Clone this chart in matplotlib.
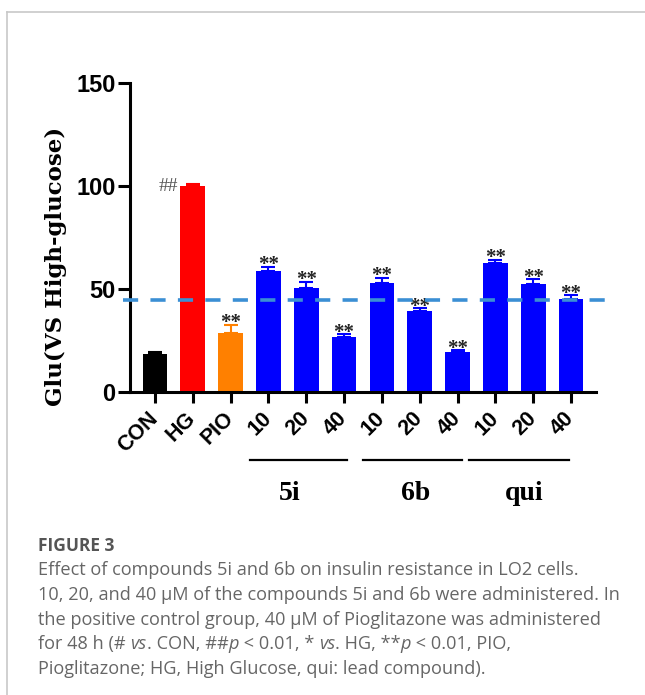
import matplotlib
matplotlib.use("Agg")
import matplotlib.pyplot as plt
from matplotlib.lines import Line2D

# group labels and measured glucose (% of high-glucose group)
groups = ["CON", "HG", "PIO", "10", "20", "40", "10", "20", "40", "10", "20", "40"]
glu = [18.4, 99.8, 28.6, 58.9, 50.6, 26.5, 53.1, 39.3, 19.3, 62.8, 52.6, 45.3]
sem = [0.9, 1.4, 4.0, 1.9, 3.0, 1.6, 2.4, 1.5, 1.1, 1.4, 2.3, 1.7]
marks = ["", "##", "**", "**", "**", "**", "**", "**", "**", "**", "**", "**"]
colors = ["#000000", "#ff0000", "#ff8000"] + ["#0000ff"] * 9
compounds = ["5i", "6b", "qui"]
ref_level = 44.8

W, H = 645, 695
fig = plt.figure(figsize=(W / 100, H / 100), dpi=100)
ax = fig.add_axes([130 / W, 1 - 392 / H, 466 / W, 309 / H])

x = list(range(len(groups)))
ax.bar(x, glu, width=0.65, color=colors, zorder=2)
for i in x:
    ax.errorbar(i, glu[i], yerr=[[0], [sem[i]]], fmt="none", ecolor=colors[i],
                elinewidth=1.5, capsize=5, capthick=1.5, zorder=3)
    if marks[i] == "##":
        ax.text(i - 0.4, glu[i], marks[i], ha="right", va="center",
                fontsize=14, family="Liberation Serif", color="#555555")
    elif marks[i]:
        ax.annotate(marks[i], (i, glu[i] + sem[i]), xytext=(0, 1),
                    textcoords="offset points", ha="center", va="center",
                    fontsize=15, fontweight="bold", family="Liberation Serif",
                    color="#222222")

# dashed reference level, runs past both ends of the axis
ax.plot([-0.85, 12.0], [ref_level, ref_level], ls=(0, (4.2, 3.4)), lw=2.6,
        color="#3b8fd4", clip_on=False, zorder=4)

ax.set_xlim(-0.66, 11.66)
ax.set_ylim(0, 150)
ax.set_yticks([0, 50, 100, 150])
ax.set_xticks(x)
ax.set_xticklabels(groups, rotation=45, ha="right", va="center",
                   rotation_mode="anchor")
for lab in ax.get_xticklabels() + ax.get_yticklabels():
    lab.set_fontfamily("Liberation Sans")
    lab.set_fontweight("bold")
for lab in ax.get_xticklabels():
    lab.set_fontsize(15.5)
for lab in ax.get_yticklabels():
    lab.set_fontsize(17)
for side in ["top", "right"]:
    ax.spines[side].set_visible(False)
for side in ["left", "bottom"]:
    ax.spines[side].set_linewidth(2.2)
ax.tick_params(axis="y", length=8.5, width=2.2, pad=2)
ax.tick_params(axis="x", length=8, width=2.2, pad=9)

# compound brackets under the concentration labels
trans = ax.get_xaxis_transform()
spans = [(2.51, 5.08), (5.50, 8.12), (8.31, 10.95)]
label_x = [3.57, 6.88, 9.76]
for (x0, x1), lx, name in zip(spans, label_x, compounds):
    ax.plot([x0, x1], [-0.22, -0.22], color="black", lw=1.6,
            transform=trans, clip_on=False)
    ax.text(lx, -0.33, name, transform=trans, ha="center", va="center",
            fontsize=20, fontweight="bold", family="Liberation Serif")

fig.text(56 / W, 1 - 266 / H, "Glu(VS High-glucose)", rotation=90,
         ha="center", va="center", fontsize=16.5, fontweight="bold",
         family="DejaVu Serif")

# thin frame lines at top and left
fig.add_artist(Line2D([6.5 / W, 1], [1 - 12 / H, 1 - 12 / H], color="#c8c8c8", lw=1.2))
fig.add_artist(Line2D([6.5 / W, 6.5 / W], [0, 1 - 12 / H], color="#c8c8c8", lw=1.2))

# caption, built run by run so "vs" and "p" can be italic
cap_font = "Open Sans"
fig.text(38 / W, 1 - 551 / H, "FIGURE 3", fontsize=12.5, fontweight="bold",
         family=cap_font, color="#555555", va="baseline")
lines = [
    [("Effect of compounds 5i and 6b on insulin resistance in LO2 cells.", "normal")],
    [("10, 20, and 40 µM of the compounds 5i and 6b were administered. In", "normal")],
    [("the positive control group, 40 µM of Pioglitazone was administered", "normal")],
    [("for 48 h (# ", "normal"), ("vs", "italic"), (". CON, ##", "normal"),
     ("p", "italic"), (" < 0.01, * ", "normal"), ("vs", "italic"),
     (". HG, **", "normal"), ("p", "italic"), (" < 0.01, PIO,", "normal")],
    [("Pioglitazone; HG, High Glucose, qui: lead compound).", "normal")],
]
fig.canvas.draw()
renderer = fig.canvas.get_renderer()
for k, runs in enumerate(lines):
    xpix = 38
    ypix = 575 + 24.8 * k
    for txt, style in runs:
        t = fig.text(xpix / W, 1 - ypix / H, txt, fontsize=13.1, family=cap_font,
                     style=style, color="#666666", va="baseline")
        xpix += t.get_window_extent(renderer).width

fig.savefig("out.png", dpi=100)
